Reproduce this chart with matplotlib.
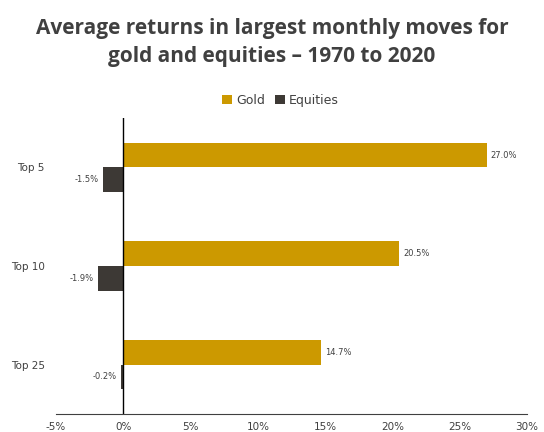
import numpy as np
import matplotlib.pyplot as plt

categories = ['Top 5', 'Top 10', 'Top 25']
gold = [27.0, 20.5, 14.7]
equities = [-1.5, -1.9, -0.2]
x_ticks = [-5, 0, 5, 10, 15, 20, 25, 30]

gold_color = '#CC9900'
eq_color = '#3D3935'
text_color = '#404040'

fig = plt.figure(figsize=(5.44, 4.32), dpi=100)
ax = fig.add_axes([0.103, 0.0417, 0.866, 0.685])

y = np.arange(len(categories))
h = 0.25
ax.barh(y - h / 2, gold, height=h, color=gold_color, label='Gold')
ax.barh(y + h / 2, equities, height=h, color=eq_color, label='Equities')

for i in range(len(categories)):
    ax.text(gold[i] + 0.3, y[i] - h / 2, f'{gold[i]:.1f}%', va='center', ha='left',
            fontsize=6, color=text_color)
    ax.text(equities[i] - 0.3, y[i] + h / 2, f'{equities[i]:.1f}%', va='center', ha='right',
            fontsize=6, color=text_color)

ax.set_xlim(-5, 30)
ax.set_ylim(len(categories) - 0.5, -0.5)
ax.set_xticks(x_ticks)
ax.set_xticklabels([f'{t}%' for t in x_ticks], fontsize=7.5, color=text_color)
ax.set_yticks(y)
ax.set_yticklabels(categories, fontsize=7.5, color=text_color)
ax.tick_params(length=0, pad=6)
ax.tick_params(axis='y', pad=8)
ax.axvline(0, color='black', linewidth=1)

for s in ['top', 'right', 'left']:
    ax.spines[s].set_visible(False)
ax.spines['bottom'].set_color('#404040')

fig.text(0.5, 0.958, 'Average returns in largest monthly moves for\ngold and equities \u2013 1970 to 2020',
         ha='center', va='top', fontsize=15, fontweight='bold', color=text_color,
         family='Open Sans', linespacing=1.4)

fig.legend(loc='center', bbox_to_anchor=(0.515, 0.768), ncol=2, frameon=False,
           fontsize=9, handlelength=0.8, handleheight=0.8, handletextpad=0.3,
           columnspacing=0.8, labelcolor=text_color)

fig.savefig('out.png', dpi=100)
